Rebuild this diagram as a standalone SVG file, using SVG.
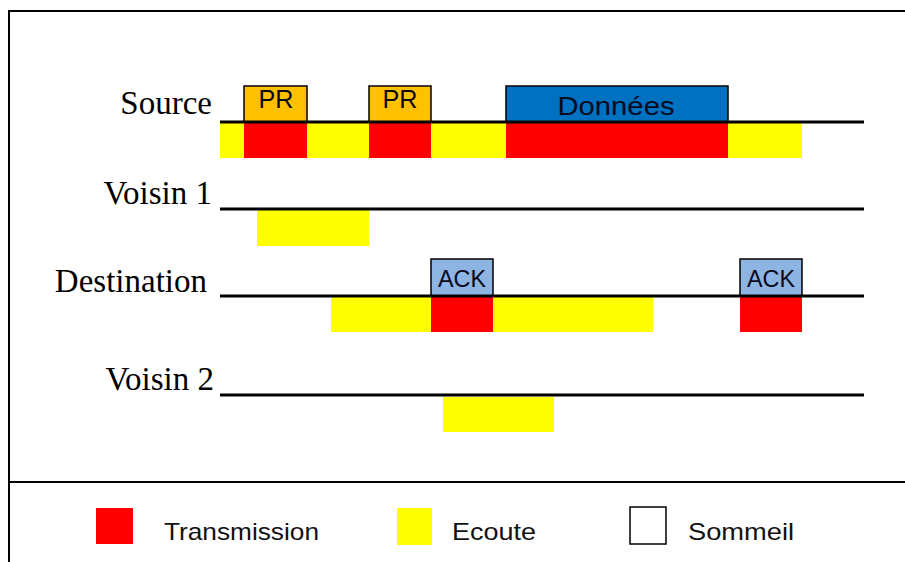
<svg xmlns="http://www.w3.org/2000/svg" width="905" height="562" viewBox="0 0 905 562">
<style>
.lbl{font-family:"Liberation Serif","Times New Roman",serif;font-size:33px;fill:#000;text-anchor:end}
.box{font-family:"Liberation Sans",Arial,sans-serif;fill:#0a0a1a;text-anchor:middle}
.leg{font-family:"Liberation Sans",Arial,sans-serif;font-size:24px;fill:#111}
.tl{stroke:#000;stroke-width:3}
.tx{fill:#FF0000}
.ec{fill:#FFFF00}
.pr{fill:#FFC000;stroke:#000;stroke-width:1.5}
.dn{fill:#0070C0;stroke:#000;stroke-width:1.5}
.ack{fill:#8EB4E3;stroke:#000;stroke-width:1.5}
</style>
<rect x="0" y="0" width="905" height="562" fill="#fff"/>
<path d="M9,562 V11 H905" fill="none" stroke="#000" stroke-width="2"/>
<line x1="9" y1="482" x2="905" y2="482" stroke="#000" stroke-width="2"/>

<g id="source">
  <text class="lbl" x="212" y="114">Source</text>
  <rect class="ec" x="220" y="122" width="24" height="36"/>
  <rect class="tx" x="244" y="122" width="63" height="36"/>
  <rect class="ec" x="307" y="122" width="62" height="36"/>
  <rect class="tx" x="369" y="122" width="62" height="36"/>
  <rect class="ec" x="431" y="122" width="75" height="36"/>
  <rect class="tx" x="506" y="122" width="222" height="36"/>
  <rect class="ec" x="728" y="122" width="74" height="36"/>
  <rect class="pr" x="244" y="86" width="63" height="36"/>
  <text class="box" x="276" y="108" font-size="25" textLength="35" lengthAdjust="spacingAndGlyphs">PR</text>
  <rect class="pr" x="369" y="86" width="62" height="36"/>
  <text class="box" x="400" y="108" font-size="25" textLength="35" lengthAdjust="spacingAndGlyphs">PR</text>
  <rect class="dn" x="506" y="86" width="222" height="36"/>
  <text class="box" x="616" y="115" font-size="26" textLength="117" lengthAdjust="spacingAndGlyphs">Données</text>
</g>

<g id="voisin1">
  <text class="lbl" x="212" y="204">Voisin 1</text>
  <rect class="ec" x="257" y="210" width="112" height="36"/>
</g>

<g id="destination">
  <text class="lbl" x="207" y="292">Destination</text>
  <rect class="ec" x="331" y="297" width="100" height="35"/>
  <rect class="tx" x="431" y="297" width="62" height="35"/>
  <rect class="ec" x="493" y="297" width="160" height="35"/>
  <rect class="tx" x="740" y="297" width="62" height="35"/>
  <rect class="ack" x="431" y="259" width="62" height="37"/>
  <text class="box" x="462" y="287" font-size="24" textLength="48" lengthAdjust="spacingAndGlyphs">ACK</text>
  <rect class="ack" x="740" y="259" width="62" height="37"/>
  <text class="box" x="771" y="287" font-size="24" textLength="48" lengthAdjust="spacingAndGlyphs">ACK</text>
</g>

<g id="voisin2">
  <text class="lbl" x="214" y="390">Voisin 2</text>
  <rect class="ec" x="443" y="397" width="111" height="35"/>
</g>

<g id="timelines">
  <line class="tl" x1="220" y1="122" x2="864" y2="122"/>
  <line class="tl" x1="220" y1="209" x2="864" y2="209"/>
  <line class="tl" x1="220" y1="296" x2="864" y2="296"/>
  <line class="tl" x1="220" y1="395" x2="864" y2="395"/>
</g>

<g id="legend">
  <rect class="tx" x="96" y="508" width="37" height="36"/>
  <text class="leg" x="164" y="540" textLength="155" lengthAdjust="spacingAndGlyphs">Transmission</text>
  <rect class="ec" x="397" y="508" width="35" height="37"/>
  <text class="leg" x="452" y="540" textLength="84" lengthAdjust="spacingAndGlyphs">Ecoute</text>
  <rect x="630" y="507" width="36" height="37" fill="#fff" stroke="#000" stroke-width="1.5"/>
  <text class="leg" x="688" y="540" textLength="106" lengthAdjust="spacingAndGlyphs">Sommeil</text>
</g>
</svg>
